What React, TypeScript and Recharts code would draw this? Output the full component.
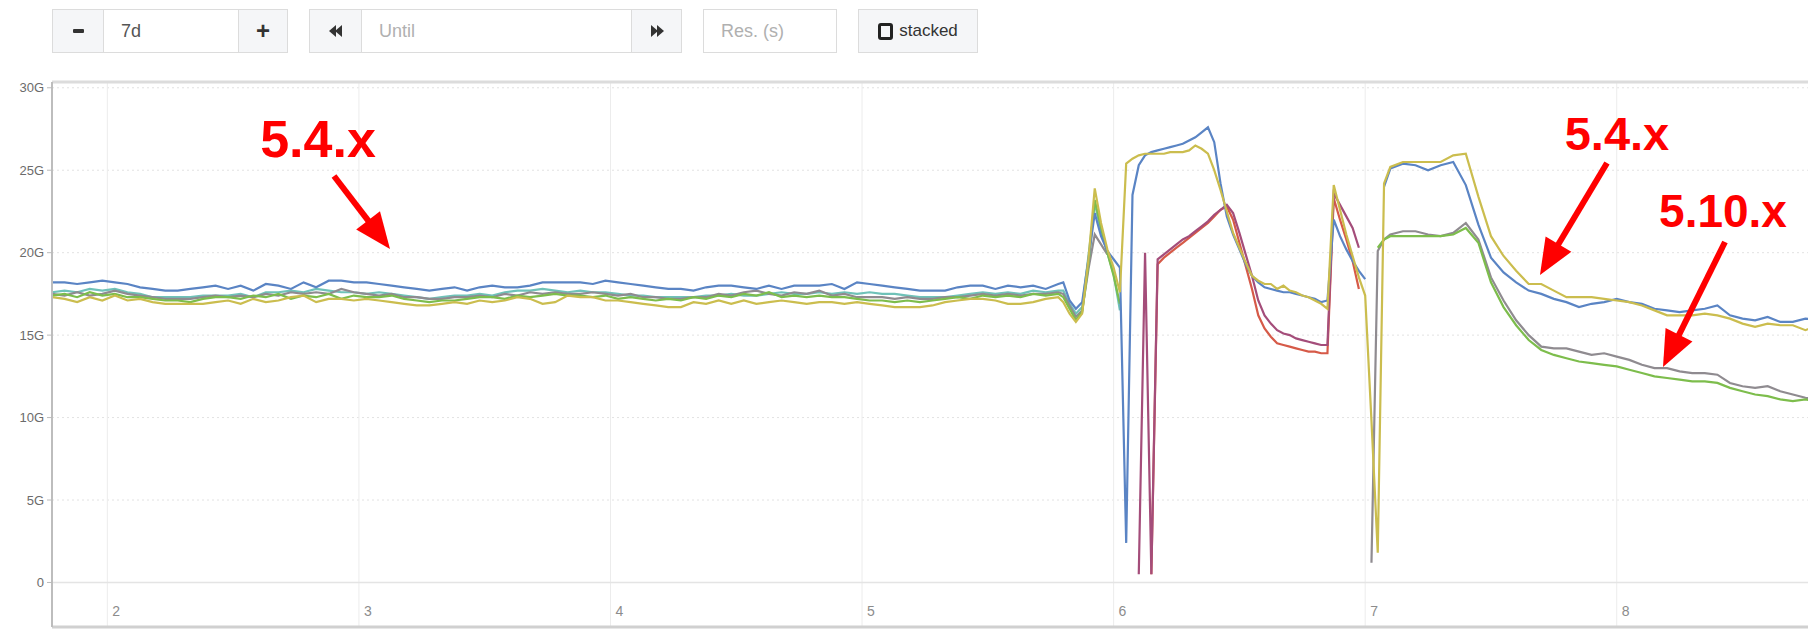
import React from 'react';
import { LineChart, Line, XAxis, YAxis, CartesianGrid, ReferenceLine } from 'recharts';

// time axis: days of the month, three sampling segments
const FLAT_START = 1.78;
const FLAT_STEP = 0.05;
const EVENT_START = 5.8;
const EVENT_STEP = 0.025;
const TAIL_START = 7.15;
const TAIL_STEP = 0.05;

const dayTicks = [2, 3, 4, 5, 6, 7, 8];
const gbTicks = [0, 5, 10, 15, 20, 25, 30];
const X_DOMAIN = [1.78, 8.8];
const Y_DOMAIN = [-2.7, 30.35];

// memory in G, steady period (days 1.78 - 5.78)
const blueFlat = [
  18.2, 18.2, 18.1, 18.2, 18.3, 18.2, 18.1, 17.9, 17.8, 17.7,
  17.7, 17.8, 17.9, 18.0, 17.8, 18.0, 17.7, 18.1, 18.0, 17.8,
  18.2, 17.9, 18.3, 18.3, 18.2, 18.2, 18.1, 18.0, 17.9, 17.8,
  17.7, 17.8, 17.9, 17.7, 17.9, 18.0, 17.9, 17.9, 18.0, 18.2,
  18.2, 18.2, 18.2, 18.1, 18.3, 18.2, 18.1, 18.0, 17.9, 17.8,
  17.8, 17.7, 17.9, 18.0, 18.0, 17.9, 17.8, 18.0, 17.8, 18.0,
  18.0, 18.0, 18.1, 17.8, 18.2, 18.1, 18.0, 17.9, 17.8, 17.7,
  17.7, 17.7, 17.9, 18.0, 18.0, 17.8, 18.0, 17.9, 18.0, 17.8,
  18.1,
];
const tealFlat = [
  17.6, 17.7, 17.6, 17.8, 17.7, 17.8, 17.6, 17.5, 17.3, 17.3,
  17.3, 17.3, 17.4, 17.4, 17.4, 17.5, 17.3, 17.6, 17.6, 17.7,
  17.6, 17.8, 17.7, 17.6, 17.6, 17.5, 17.6, 17.5, 17.4, 17.3,
  17.2, 17.3, 17.4, 17.4, 17.5, 17.4, 17.6, 17.7, 17.7, 17.8,
  17.7, 17.6, 17.7, 17.6, 17.6, 17.5, 17.4, 17.4, 17.3, 17.3,
  17.3, 17.3, 17.4, 17.4, 17.5, 17.4, 17.4, 17.5, 17.6, 17.5,
  17.5, 17.6, 17.5, 17.6, 17.5, 17.6, 17.5, 17.5, 17.4, 17.3,
  17.3, 17.3, 17.4, 17.5, 17.6, 17.5, 17.6, 17.5, 17.7, 17.6,
  17.7,
];
const grayFlat = [
  17.5, 17.4, 17.6, 17.4, 17.5, 17.7, 17.5, 17.4, 17.3, 17.2,
  17.2, 17.2, 17.3, 17.4, 17.3, 17.4, 17.3, 17.5, 17.4, 17.6,
  17.5, 17.6, 17.5, 17.8, 17.6, 17.5, 17.4, 17.5, 17.3, 17.3,
  17.2, 17.2, 17.3, 17.3, 17.4, 17.3, 17.5, 17.4, 17.6, 17.5,
  17.6, 17.5, 17.5, 17.6, 17.5, 17.4, 17.5, 17.3, 17.3, 17.2,
  17.2, 17.3, 17.3, 17.5, 17.4, 17.6, 17.7, 17.5, 17.4, 17.6,
  17.5, 17.7, 17.4, 17.5, 17.3, 17.3, 17.3, 17.2, 17.3, 17.2,
  17.2, 17.3, 17.3, 17.4, 17.5, 17.4, 17.5, 17.4, 17.5, 17.5,
  17.6,
];
const greenFlat = [
  17.4, 17.5, 17.3, 17.6, 17.4, 17.5, 17.3, 17.3, 17.2, 17.1,
  17.1, 17.0, 17.2, 17.3, 17.3, 17.2, 17.4, 17.3, 17.5, 17.2,
  17.4, 17.3, 17.5, 17.2, 17.4, 17.3, 17.3, 17.4, 17.2, 17.1,
  17.0, 17.1, 17.1, 17.2, 17.3, 17.3, 17.2, 17.4, 17.3, 17.4,
  17.5, 17.4, 17.4, 17.3, 17.4, 17.2, 17.3, 17.2, 17.1, 17.2,
  17.1, 17.3, 17.2, 17.4, 17.3, 17.5, 17.4, 17.6, 17.3, 17.4,
  17.3, 17.4, 17.3, 17.3, 17.2, 17.1, 17.1, 17.0, 17.1, 17.0,
  17.1, 17.2, 17.3, 17.2, 17.4, 17.3, 17.4, 17.3, 17.5, 17.4,
  17.5,
];
const yellowFlat = [
  17.3, 17.2, 17.0, 17.3, 17.1, 17.4, 17.1, 17.2, 17.0, 16.9,
  16.9, 16.9, 16.9, 17.0, 17.1, 16.9, 17.2, 17.0, 17.1, 17.3,
  17.4, 17.0, 17.2, 17.2, 17.1, 17.2, 17.1, 17.0, 16.9, 16.8,
  16.8, 16.9, 17.0, 16.9, 17.1, 17.0, 17.1, 17.3, 17.2, 16.9,
  17.0, 17.4, 17.3, 17.3, 17.1, 17.1, 17.0, 16.9, 16.8, 16.7,
  16.7, 17.0, 16.9, 17.1, 16.9, 17.1, 16.9, 17.0, 17.1, 17.0,
  16.9, 17.0, 17.0, 16.9, 17.0, 16.9, 16.8, 16.7, 16.7, 16.7,
  16.8, 17.0, 17.1, 17.2, 17.2, 17.1, 16.9, 16.9, 17.0, 17.2,
  17.3,
];

// restarts (days 5.80 - 7.10)
const blueEvent = [
  18.2, 17.1, 16.6, 17.0, 19.6, 22.4, 21.0, 20.1, 19.6, 19.1,
  2.4, 23.5, 25.3, 25.9, 26.1, 26.2, 26.3, 26.4, 26.5, 26.6,
  26.8, 27.0, 27.3, 27.6, 26.7, 24.2, 22.2, 21.1, 20.2, 19.3,
  18.6, 18.2, 17.9, 17.8, 17.7, 17.6, 17.6, 17.5, 17.4, 17.3,
  17.2, 17.0, 17.1, 22.0, 21.0, 20.2, 19.5, 18.9, 18.4, null,
  null, 24.0, 25.1,
];
const yellowEvent = [
  17.0, 16.3, 15.8, 16.3, 19.6, 23.9, 21.8, 20.2, 19.1, 17.6,
  25.4, 25.7, 25.9, 26.0, 26.0, 26.0, 26.0, 26.1, 26.1, 26.1,
  26.2, 26.5, 26.3, 26.0, 25.0, 23.8, 22.5, 21.2, 20.3, 19.4,
  18.6, 18.3, 18.1, 18.1, 17.8, 18.0, 17.7, 17.6, 17.4, 17.3,
  17.1, 16.9, 16.6, 24.1, 22.6, 21.1, 19.8, 18.5, 17.4, 9.8,
  1.8, 24.2, 25.2,
];
const tealEvent = [
  17.7, 16.9, 16.3, 16.7, 19.8, 23.0, 21.3, 20.0, 18.7, 16.5,
];
const grayEvent = [
  17.5, 16.8, 16.1, 16.5, 19.0, 21.1, 20.5, 19.9, null, null,
  null, null, null, null, null, null, null, null, null, null,
  null, null, null, null, null, null, null, null, null, null,
  null, null, null, null, null, null, null, null, null, null,
  null, null, null, null, null, null, null, null, null, 1.2,
  20.1, 20.8, 21.1,
];
const greenEvent = [
  17.3, 16.6, 15.9, 16.4, 19.3, 23.2, 21.5, 20.0, 18.6, 16.9,
  null, null, null, null, null, null, null, null, null, null,
  null, null, null, null, null, null, null, null, null, null,
  null, null, null, null, null, null, null, null, null, null,
  null, null, null, null, null, null, null, null, null, null,
  20.3, 20.8, 21.0,
];
const redEvent = [
  null, null, null, null, null, null, null, null, null, null,
  null, null, null, null, 0.5, 19.3, 19.7, 20.0, 20.3, 20.6,
  20.9, 21.2, 21.5, 21.8, 22.2, 22.6, 22.8, 22.0, 20.6, 19.2,
  17.8, 16.2, 15.4, 14.9, 14.5, 14.4, 14.3, 14.2, 14.1, 14.0,
  14.0, 13.9, 13.9, 23.3, 22.0, 20.8, 19.5, 17.8, null, null,
  null, null, null,
];
const maroonEvent = [
  null, null, null, null, null, null, null, null, null, null,
  null, null, 0.5, 20.0, 0.5, 19.6, 19.9, 20.2, 20.5, 20.8,
  21.0, 21.3, 21.6, 21.9, 22.3, 22.6, 22.9, 22.4, 21.2, 19.9,
  18.6, 17.1, 16.2, 15.7, 15.3, 15.1, 15.0, 14.8, 14.7, 14.6,
  14.5, 14.4, 14.4, 23.6, 22.9, 22.2, 21.5, 20.3, null, null,
  null, null, null,
];

// after the upgrade (days 7.15 - 8.80)
const blueTail = [
  25.4, 25.3, 25.0, 25.3, 25.5, 24.1, 21.7, 19.7, 18.8, 18.2,
  17.7, 17.5, 17.2, 17.0, 16.7, 16.9, 17.0, 17.2, 17.0, 16.9,
  16.6, 16.5, 16.4, 16.5, 16.6, 16.8, 16.2, 16.0, 15.9, 16.1,
  15.8, 15.8, 16.0, 15.9,
];
const yellowTail = [
  25.5, 25.5, 25.5, 25.5, 25.9, 26.0, 23.4, 21.0, 19.8, 18.9,
  18.1, 18.1, 17.7, 17.3, 17.3, 17.3, 17.2, 17.1, 17.0, 16.8,
  16.5, 16.2, 16.2, 16.2, 16.3, 16.2, 16.0, 15.7, 15.5, 15.7,
  15.6, 15.6, 15.3, 15.6,
];
const grayTail = [
  21.3, 21.3, 21.1, 21.0, 21.2, 21.8, 20.8, 18.5, 17.1, 15.9,
  15.0, 14.3, 14.2, 14.2, 14.0, 13.8, 13.9, 13.7, 13.5, 13.2,
  13.0, 13.0, 12.8, 12.7, 12.7, 12.6, 12.1, 11.9, 11.8, 11.9,
  11.6, 11.4, 11.2, 11.1,
];
const greenTail = [
  21.0, 21.0, 21.0, 21.0, 21.1, 21.5, 20.6, 18.2, 16.7, 15.6,
  14.7, 14.1, 13.8, 13.6, 13.4, 13.3, 13.2, 13.1, 12.9, 12.7,
  12.5, 12.4, 12.3, 12.2, 12.2, 12.1, 11.8, 11.6, 11.4, 11.3,
  11.1, 11.0, 11.1, 11.0,
];

const SERIES = [
  { key: 'teal', color: '#6fc2b8' },
  { key: 'gray', color: '#8f8b90' },
  { key: 'green', color: '#7dbd4c' },
  { key: 'red', color: '#d65a48' },
  { key: 'maroon', color: '#a44d7a' },
  { key: 'blue', color: '#5a84c4' },
  { key: 'yellow', color: '#cbbd4e' },
];

type Parts = Record<string, (number | null)[]>;

function segment(start: number, step: number, count: number, parts: Parts) {
  return Array.from({ length: count }, (_, i) => {
    const row: Record<string, number | null> = { t: +(start + step * i).toFixed(3) };
    SERIES.forEach(({ key }) => {
      const v = parts[key] ? parts[key][i] : undefined;
      row[key] = v === undefined ? null : v;
    });
    return row;
  });
}

const rows = [
  ...segment(FLAT_START, FLAT_STEP, blueFlat.length, {
    blue: blueFlat, teal: tealFlat, gray: grayFlat, green: greenFlat, yellow: yellowFlat,
  }),
  ...segment(EVENT_START, EVENT_STEP, blueEvent.length, {
    blue: blueEvent, yellow: yellowEvent, teal: tealEvent, gray: grayEvent,
    green: greenEvent, red: redEvent, maroon: maroonEvent,
  }),
  ...segment(TAIL_START, TAIL_STEP, blueTail.length, {
    blue: blueTail, yellow: yellowTail, gray: grayTail, green: greenTail,
  }),
];

const CHART_W = 1818;
const CHART_H = 630;
const FONT = '"Liberation Sans", Arial, Helvetica, sans-serif';

// day number drawn inside the plot, just right of its grid line
const DayLabel = (props: any) => {
  const { viewBox, value } = props;
  if (!viewBox) return null;
  return (
    <text
      x={viewBox.x + 5}
      y={viewBox.y + viewBox.height - 11}
      fill="#8c8c8c"
      fontSize={14}
      fontFamily={FONT}
    >
      {value}
    </text>
  );
};

const btn: React.CSSProperties = {
  position: 'absolute',
  top: 9,
  height: 44,
  boxSizing: 'border-box',
  border: '1px solid #dcdcdc',
  background: '#f5f6f8',
  display: 'flex',
  alignItems: 'center',
  justifyContent: 'center',
  fontFamily: FONT,
};
const input: React.CSSProperties = {
  ...btn,
  background: '#fff',
  justifyContent: 'flex-start',
  paddingLeft: 17,
  fontSize: 18,
  color: '#b0b0b0',
};

const DoubleArrow = ({ dir }: { dir: 1 | -1 }) => (
  <svg width={14} height={12} viewBox="0 0 14 12">
    {dir < 0 ? (
      <g fill="#333">
        <polygon points="0,6 7,0 7,12" />
        <polygon points="6,6 13,0 13,12" />
      </g>
    ) : (
      <g fill="#333">
        <polygon points="14,6 7,0 7,12" />
        <polygon points="8,6 1,0 1,12" />
      </g>
    )}
  </svg>
);

function arrowHead(x1: number, y1: number, x2: number, y2: number, len = 36, half = 15) {
  const d = Math.hypot(x2 - x1, y2 - y1);
  const ux = (x2 - x1) / d;
  const uy = (y2 - y1) / d;
  const bx = x2 - ux * len;
  const by = y2 - uy * len;
  return {
    shaftEnd: [bx + ux * 4, by + uy * 4],
    points: `${x2},${y2} ${bx - uy * half},${by + ux * half} ${bx + uy * half},${by - ux * half}`,
  };
}

const annotations = [
  { text: '5.4.x', size: 52, tx: 318, ty: 157, from: [334, 176], to: [390, 249] },
  { text: '5.4.x', size: 47, tx: 1617, ty: 150, from: [1607, 163], to: [1540, 275] },
  { text: '5.10.x', size: 46, tx: 1723, ty: 227, from: [1725, 242], to: [1663, 367] },
];

const App: React.FC = () => {
  return (
    <div
      style={{
        position: 'absolute',
        left: 0,
        top: 0,
        width: 1808,
        height: 630,
        overflow: 'hidden',
        background: '#fff',
      }}
    >
      {/* toolbar */}
      <div style={{ ...btn, left: 52, width: 52 }}>
        <div style={{ width: 11, height: 4, background: '#333', borderRadius: 1 }} />
      </div>
      <div style={{ ...input, left: 103, width: 136, color: '#555' }}>7d</div>
      <div style={{ ...btn, left: 238, width: 50, fontSize: 24, fontWeight: 900, color: '#333' }}>+</div>

      <div style={{ ...btn, left: 309, width: 53 }}>
        <DoubleArrow dir={-1} />
      </div>
      <div style={{ ...input, left: 361, width: 271 }}>Until</div>
      <div style={{ ...btn, left: 631, width: 51 }}>
        <DoubleArrow dir={1} />
      </div>

      <div style={{ ...input, left: 703, width: 134 }}>Res. (s)</div>

      <div style={{ ...btn, left: 858, width: 120, fontSize: 17, color: '#333' }}>
        <div
          style={{
            width: 9,
            height: 11,
            border: '3px solid #222',
            borderRadius: 3,
            marginRight: 6,
          }}
        />
        stacked
      </div>

      {/* graph */}
      <div style={{ position: 'absolute', left: 0, top: 0 }}>
        <LineChart
          width={CHART_W}
          height={CHART_H}
          data={rows}
          margin={{ top: 82, right: 0, bottom: 3, left: 0 }}
        >
          <CartesianGrid vertical={false} stroke="#e2e2e2" strokeDasharray="2 3" />
          {dayTicks.map((d) => (
            <ReferenceLine
              key={d}
              x={d}
              stroke="#ececec"
              strokeWidth={1}
              label={<DayLabel value={d} />}
            />
          ))}
          <ReferenceLine y={Y_DOMAIN[1]} stroke="#dcdcdc" strokeWidth={3} />
          <ReferenceLine y={Y_DOMAIN[0]} stroke="#d0d0d0" strokeWidth={3} />
          <ReferenceLine y={0} stroke="#e4e4e4" strokeWidth={1.5} />
          <XAxis dataKey="t" type="number" domain={X_DOMAIN} allowDataOverflow hide />
          <YAxis
            type="number"
            domain={Y_DOMAIN}
            ticks={gbTicks}
            allowDataOverflow
            width={52}
            tickSize={5}
            tickMargin={3}
            interval={0}
            tickLine={{ stroke: '#bbb' }}
            axisLine={{ stroke: '#bdbdbd', strokeWidth: 2 }}
            tick={{ fill: '#6b6b6b', fontSize: 13, fontFamily: FONT }}
            tickFormatter={(v: number) => (v === 0 ? '0' : `${v}G`)}
          />
          {SERIES.map((s) => (
            <Line
              key={s.key}
              dataKey={s.key}
              type="linear"
              stroke={s.color}
              strokeWidth={2.2}
              dot={false}
              activeDot={false}
              connectNulls={false}
              isAnimationActive={false}
            />
          ))}
        </LineChart>
      </div>

      {/* annotations */}
      <svg
        width={1808}
        height={630}
        style={{ position: 'absolute', left: 0, top: 0, pointerEvents: 'none' }}
      >
        {annotations.map((a, i) => {
          const head = arrowHead(a.from[0], a.from[1], a.to[0], a.to[1]);
          return (
            <g key={i}>
              <text
                x={a.tx}
                y={a.ty}
                textAnchor="middle"
                fill="#ff0000"
                fontSize={a.size}
                fontWeight="bold"
                fontFamily={FONT}
              >
                {a.text}
              </text>
              <line
                x1={a.from[0]}
                y1={a.from[1]}
                x2={head.shaftEnd[0]}
                y2={head.shaftEnd[1]}
                stroke="#ff0000"
                strokeWidth={6}
              />
              <polygon points={head.points} fill="#ff0000" />
            </g>
          );
        })}
      </svg>
    </div>
  );
};

export default App;
